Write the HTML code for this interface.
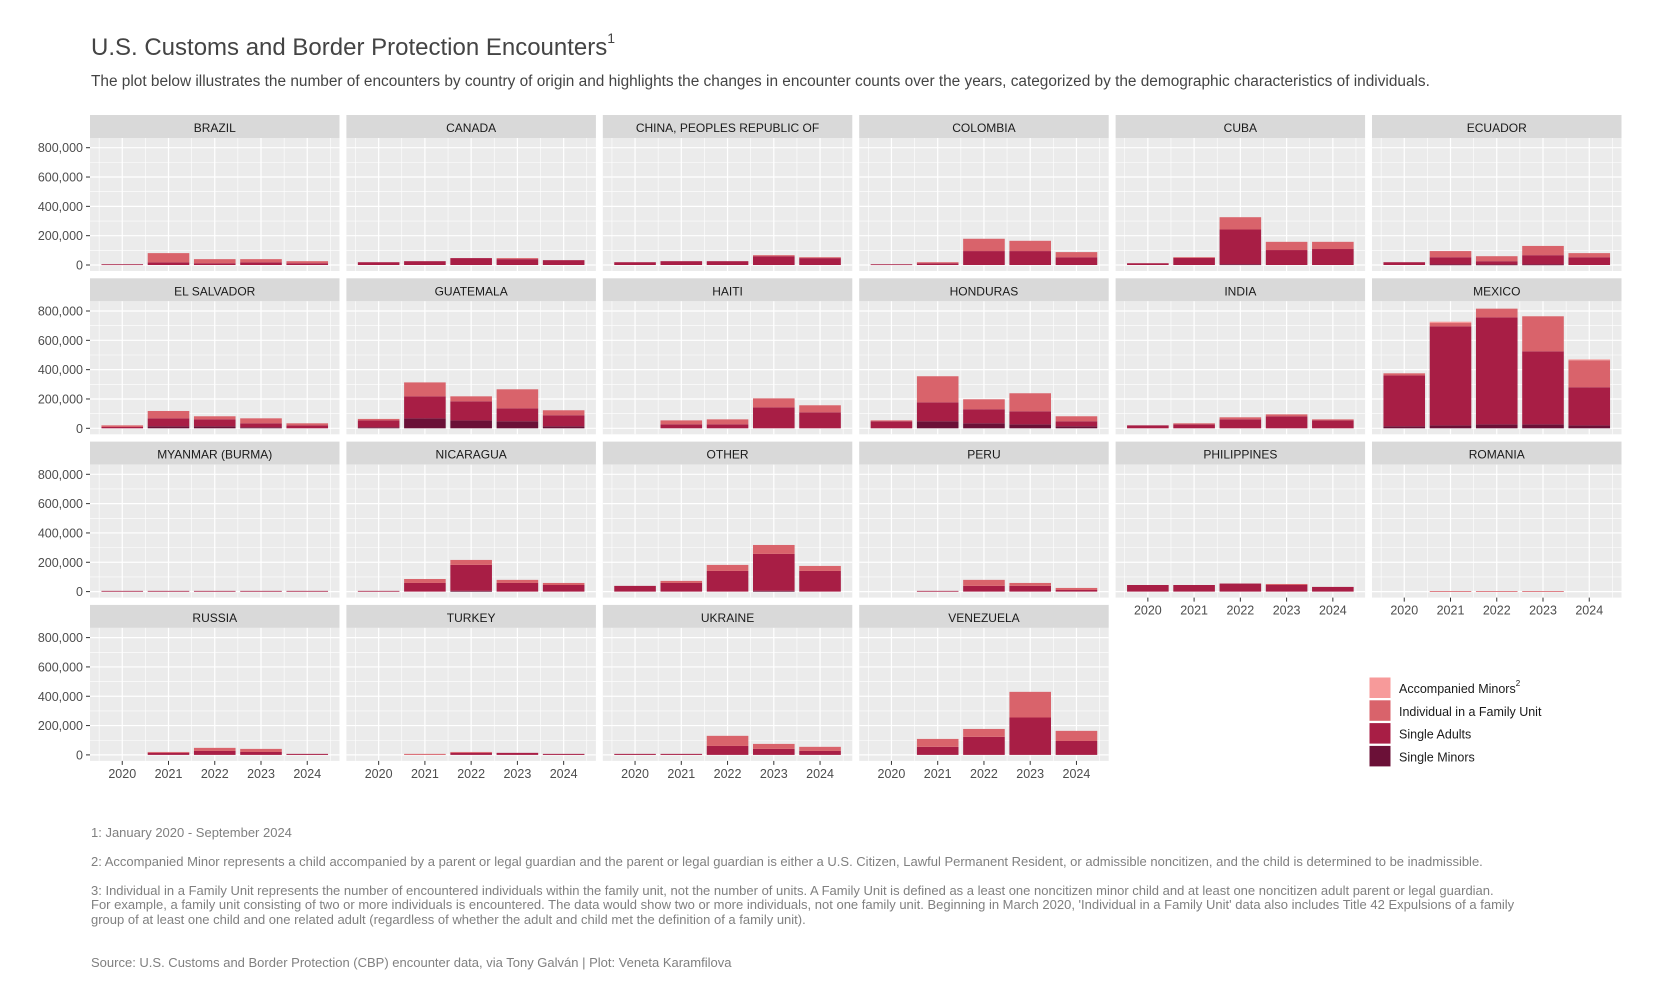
<!DOCTYPE html>
<html><head><meta charset="utf-8">
<style>
html,body{margin:0;padding:0;background:#fff;}
svg{display:block;font-family:"Liberation Sans",Arial,sans-serif;}
</style></head>
<body>
<svg id="chart" width="1656" height="992" viewBox="0 0 1656 992" xmlns="http://www.w3.org/2000/svg">
<text x="91" y="55" font-size="24" fill="#444">U.S. Customs and Border Protection Encounters<tspan font-size="14" dy="-12">1</tspan></text>
<text x="91" y="86" font-size="15.4" fill="#444">The plot below illustrates the number of encounters by country of origin and highlights the changes in encounter counts over the years, categorized by the demographic characteristics of individuals.</text>
<g id="panels"></g>
<g id="legend"></g>
<g font-size="13" fill="#808080">
<text x="91" y="837">1: January 2020 - September 2024</text>
<text x="91" y="866">2: Accompanied Minor represents a child accompanied by a parent or legal guardian and the parent or legal guardian is either a U.S. Citizen, Lawful Permanent Resident, or admissible noncitizen, and the child is determined to be inadmissible.</text>
<text x="91" y="895">3: Individual in a Family Unit represents the number of encountered individuals within the family unit, not the number of units. A Family Unit is defined as a least one noncitizen minor child and at least one noncitizen adult parent or legal guardian.</text>
<text x="91" y="909">For example, a family unit consisting of two or more individuals is encountered. The data would show two or more individuals, not one family unit. Beginning in March 2020, 'Individual in a Family Unit' data also includes Title 42 Expulsions of a family</text>
<text x="91" y="924">group of at least one child and one related adult (regardless of whether the adult and child met the definition of a family unit).</text>
<text x="91" y="967">Source: U.S. Customs and Border Protection (CBP) encounter data, via Tony Galván | Plot: Veneta Karamfilova</text>
</g>
</svg>
<script>
const countries = ["BRAZIL","CANADA","CHINA, PEOPLES REPUBLIC OF","COLOMBIA","CUBA","ECUADOR","EL SALVADOR","GUATEMALA","HAITI","HONDURAS","INDIA","MEXICO","MYANMAR (BURMA)","NICARAGUA","OTHER","PERU","PHILIPPINES","ROMANIA","RUSSIA","TURKEY","UKRAINE","VENEZUELA"];
const years = ["2020","2021","2022","2023","2024"];
const yTicks = [0,200000,400000,600000,800000];
const yTickLabels = ["0","200,000","400,000","600,000","800,000"];
// values in thousands
const singleMinors = [[0,0,0,0,0],[0,0,0,0,0],[0,0,0,0,0],[0,0,0,0,0],[0,0,5,0,0],[0,4,4,4,0],[0,14,14,7,0],[7,68,54,48,14],[0,0,0,0,0],[0,48,34,27,14],[0,0,0,0,0],[14,20,27,27,20],[0,0,0,0,0],[0,0,5,0,0],[0,0,0,5,0],[0,0,0,0,0],[0,0,0,0,0],[0,0,0,0,0],[0,0,0,0,0],[0,0,0,0,0],[0,0,0,0,0],[0,0,0,0,0]];
const singleAdults = [[5,18,12,18,12],[19,26,47,40,33],[19,26,26,60,47],[5,12,95,95,53],[12,49,237,102,109],[19,49,22,63,53],[9,54,47,27,20],[47,150,130,88,75],[0,27,27,143,109],[48,129,96,89,34],[20,27,61,82,54],[347,675,730,498,260],[5,5,5,5,5],[5,59,177,59,45],[39,59,141,252,141],[0,5,39,39,11],[45,45,55,45,32],[0,0,0,0,0],[0,14,27,20,7],[0,0,14,14,7],[7,7,61,41,27],[0,55,123,255,95]];
const familyUnit = [[0,63,28,22,14],[0,0,0,7,0],[0,0,0,7,6],[0,7,84,70,35],[0,4,84,56,49],[0,42,34,63,28],[11,50,21,34,14],[10,95,34,130,34],[0,27,34,61,48],[6,178,68,123,34],[0,7,14,13,7],[14,23,59,239,184],[0,0,0,0,0],[0,27,34,21,14],[0,14,41,61,34],[0,0,41,20,14],[0,0,0,7,0],[0,3,3,3,0],[0,6,21,21,0],[0,7,6,0,0],[0,0,69,34,28],[0,54,54,175,69]];
const accompaniedMinors = [[0,0,0,0,0],[0,0,0,0,0],[0,0,0,0,0],[0,0,0,0,0],[0,0,0,0,0],[0,0,0,0,0],[0,0,0,0,0],[0,0,0,0,0],[0,0,0,0,0],[0,0,0,0,0],[0,0,0,0,0],[0,9,0,0,6],[0,0,0,0,0],[0,0,0,0,0],[0,0,0,0,0],[0,0,0,0,0],[0,0,0,0,0],[0,0,0,0,0],[0,0,0,0,0],[0,0,0,0,0],[0,0,0,0,0],[0,0,0,0,0]];
const seriesNames = ["Single Minors","Single Adults","Individual in a Family Unit","Accompanied Minors"];
const seriesColors = ["#6b1037","#a81e45","#d9636b","#f79a9a"];

const NS="http://www.w3.org/2000/svg";
function mk(tag, attrs, parent){const e=document.createElementNS(NS,tag);for(const k in attrs)e.setAttribute(k,attrs[k]);parent.appendChild(e);return e;}
const panelsG=document.getElementById('panels');
const X0=90, PITCH=256.4, PW=249.5, Y0=115, RPITCH=163.3, STRIP=23, PH=133;
const ZERO_OFF=150, UNIT=117.3/800000;
function yScale(v,top){return top+ZERO_OFF-v*UNIT;}
function xScale(i,left){return left+PW/2+(i-2)*46.25;}
const data=[singleMinors,singleAdults,familyUnit,accompaniedMinors];

countries.forEach((c,ci)=>{
  const col=ci%6,row=Math.floor(ci/6);
  const left=X0+col*PITCH, stop=Y0+row*RPITCH, ptop=stop+STRIP;
  const g=mk('g',{},panelsG);
  
  
  const strip=mk('rect',{x:left,y:stop,width:PW,height:STRIP,fill:'#d9d9d9'},g);
  
  
  const st=mk('text',{x:left+PW/2,y:stop+17,'text-anchor':'middle','font-size':'12',fill:'#1a1a1a'},g);
  st.textContent=c;
  
  
  const bg=mk('rect',{x:left,y:ptop,width:PW,height:PH,fill:'#ebebeb'},g);
  
  
  for(let v=100000;v<=900000;v+=200000){const y=yScale(v,stop);if(y>ptop)mk('line',{x1:left,x2:left+PW,y1:y,y2:y,stroke:'#fff','stroke-width':0.6},g);}
  for(let i=-0.5;i<=4.5;i+=1){const x=xScale(i,left);mk('line',{x1:x,x2:x,y1:ptop,y2:ptop+PH,stroke:'#fff','stroke-width':0.6},g);}
  yTicks.forEach(v=>{const y=yScale(v,stop);mk('line',{x1:left,x2:left+PW,y1:y,y2:y,stroke:'#fff','stroke-width':1.2},g);});
  years.forEach((yr,i)=>{const x=xScale(i,left);mk('line',{x1:x,x2:x,y1:ptop,y2:ptop+PH,stroke:'#fff','stroke-width':1.2},g);});
  years.forEach((yr,i)=>{
    let cum=0;
    data.forEach((s,si)=>{
      const v=s[ci][i]*1000; if(v<=0)return;
      const y1=yScale(cum,stop), y2=yScale(cum+v,stop);
      const r=mk('rect',{x:xScale(i,left)-20.8,y:y2,width:41.6,height:Math.max(0.8,y1-y2),fill:seriesColors[si]},g);
      
      
      cum+=v;
    });
  });
  if(col===0){
    yTicks.forEach((v,k)=>{const y=yScale(v,stop);
      mk('line',{x1:left-4,x2:left,y1:y,y2:y,stroke:'#333','stroke-width':1},g);
      const t=mk('text',{x:left-7,y:y+4.5,'text-anchor':'end','font-size':'12.5',fill:'#4d4d4d'},g);
      t.textContent=yTickLabels[k];
      
      
    });
  }
  const bottomRow=(col<=3&&row===3)||(col>=4&&row===2);
  if(bottomRow){
    years.forEach((yr,i)=>{const x=xScale(i,left);
      mk('line',{x1:x,x2:x,y1:ptop+PH,y2:ptop+PH+4,stroke:'#333','stroke-width':1},g);
      const t=mk('text',{x:x,y:ptop+PH+17,'text-anchor':'middle','font-size':'12.5',fill:'#4d4d4d'},g);
      t.textContent=yr;
      
      
    });
  }
});
const lg=document.getElementById('legend');
const legendOrder=[3,2,1,0];
legendOrder.forEach((si,k)=>{
  const y=677+k*22.8;
  const r=mk('rect',{x:1369,y:y,width:22,height:21.5,fill:seriesColors[si],stroke:'#fff','stroke-width':1},lg);
  
  
  const t=mk('text',{x:1399,y:y+16,'font-size':'12.5',fill:'#1a1a1a'},lg);
  t.textContent=seriesNames[si];
  
  
  if(si===3){const s=mk('tspan',{'font-size':'8',dy:'-7'},t);s.textContent='2';}
});
</script>
</body></html>
